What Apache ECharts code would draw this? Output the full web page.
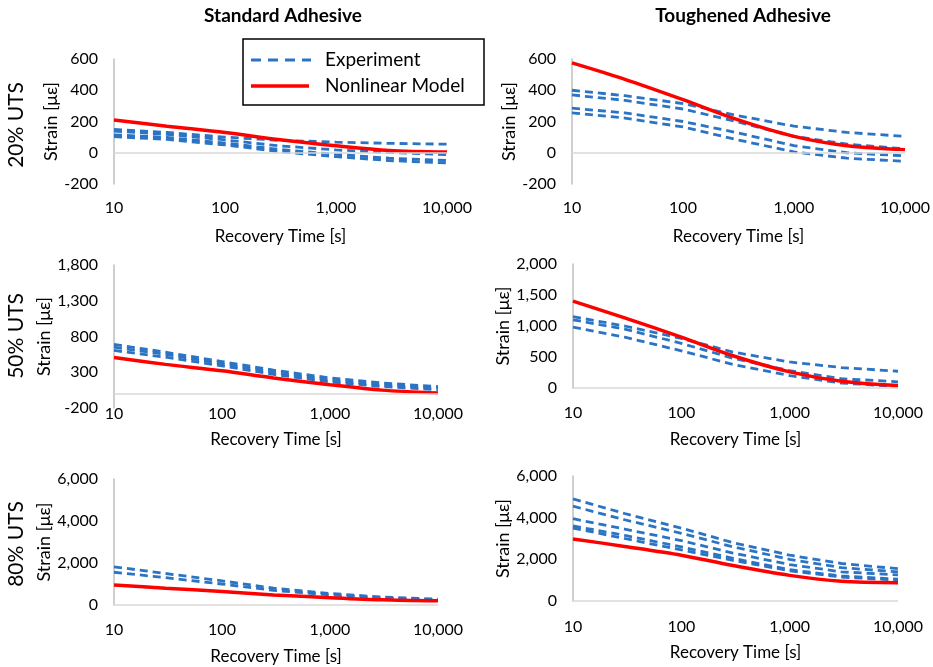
<!DOCTYPE html>
<html>
<head>
<meta charset="utf-8">
<script src="https://cdn.jsdelivr.net/npm/echarts@6/dist/echarts.min.js"></script>
<style>
html,body{margin:0;padding:0;background:#fff;}
#chart{width:933px;height:667px;}
</style>
</head>
<body>
<div id="chart"></div>
<script>
// Recovery times [s]
const timeS = [10, 30, 100, 300, 1000, 3000, 10000];

// Standard adhesive, 20% UTS
const std20Exp1 = [150, 130, 100, 80, 68, 60, 55];
const std20Exp2 = [138, 118, 82, 45, 18, 2, -12];
const std20Exp3 = [115, 98, 62, 22, -10, -35, -50];
const std20Exp4 = [103, 85, 50, 8, -25, -50, -65];
const std20Model = [210, 170, 130, 85, 45, 15, 5];

// Toughened adhesive, 20% UTS
const tgh20Exp1 = [400, 365, 315, 240, 170, 130, 105];
const tgh20Exp2 = [370, 335, 280, 200, 105, 55, 25];
const tgh20Exp3 = [285, 255, 200, 130, 45, 0, -20];
const tgh20Exp4 = [255, 222, 165, 85, 5, -35, -55];
const tgh20Model = [575, 470, 340, 215, 105, 45, 20];

// Standard adhesive, 50% UTS
const std50Exp1 = [690, 580, 450, 330, 220, 150, 100];
const std50Exp2 = [650, 550, 420, 300, 190, 120, 80];
const std50Exp3 = [605, 510, 390, 270, 165, 100, 55];
const std50Model = [505, 410, 320, 220, 125, 50, 10];

// Toughened adhesive, 50% UTS
const tgh50Exp1 = [1150, 1000, 800, 580, 420, 330, 270];
const tgh50Exp2 = [1100, 950, 720, 480, 280, 150, 100];
const tgh50Exp3 = [980, 820, 600, 380, 200, 80, 25];
const tgh50Model = [1400, 1130, 820, 520, 260, 110, 40];

// Standard adhesive, 80% UTS
const std80Exp1 = [1820, 1500, 1150, 800, 550, 380, 280];
const std80Exp2 = [1560, 1300, 1000, 700, 480, 330, 230];
const std80Model = [950, 800, 640, 480, 350, 250, 200];

// Toughened adhesive, 80% UTS
const tgh80Exp1 = [4900, 4200, 3500, 2800, 2200, 1800, 1550];
const tgh80Exp2 = [4550, 3900, 3250, 2600, 2000, 1600, 1400];
const tgh80Exp3 = [3950, 3450, 2900, 2300, 1750, 1400, 1250];
const tgh80Exp4 = [3600, 3150, 2600, 2050, 1500, 1200, 1050];
const tgh80Exp5 = [3500, 3000, 2450, 1950, 1450, 1150, 1000];
const tgh80Model = [2980, 2620, 2200, 1700, 1230, 950, 880];

// Axis ranges
const yMins = [-200, -200, -200, 0, 0, 0];
const yMaxs = [600, 600, 1800, 2000, 6000, 6000];
const yIntervals = [200, 200, 500, 500, 2000, 2000];

const columnTitles = ['Standard Adhesive', 'Toughened Adhesive'];
const rowTitles = ['20% UTS', '50% UTS', '80% UTS'];
const legendNames = ['Experiment', 'Nonlinear Model'];

const panels = [
  {exp: [std20Exp1, std20Exp2, std20Exp3, std20Exp4], model: std20Model},
  {exp: [tgh20Exp1, tgh20Exp2, tgh20Exp3, tgh20Exp4], model: tgh20Model},
  {exp: [std50Exp1, std50Exp2, std50Exp3], model: std50Model},
  {exp: [tgh50Exp1, tgh50Exp2, tgh50Exp3], model: tgh50Model},
  {exp: [std80Exp1, std80Exp2], model: std80Model},
  {exp: [tgh80Exp1, tgh80Exp2, tgh80Exp3, tgh80Exp4, tgh80Exp5], model: tgh80Model}
];

const FONT = 'Lato';
const BLUE = '#2b74c4';
const RED = '#ff0000';

const gridPos = [
  {left: 114, top: 59, width: 333, height: 125},
  {left: 572, top: 59, width: 333, height: 125},
  {left: 114, top: 265, width: 324, height: 143},
  {left: 573, top: 264, width: 325, height: 124},
  {left: 114, top: 479, width: 324, height: 126},
  {left: 573, top: 476, width: 325, height: 125}
];
const xLabelMargin = [16, 16, -2, 17, 17, 18];
const xNameGap = [44, 44, 23, 43, 43, 43];
const yNameGap = [45, 48, 45, 48, 45, 48];

const fmt = v => Number(v).toLocaleString('en-US');

const grid = gridPos.map(g => Object.assign({containLabel: false}, g));
const xAxis = gridPos.map((g, i) => ({
  gridIndex: i,
  type: 'log',
  logBase: 10,
  min: 10,
  max: 10000,
  axisLine: {show: false},
  axisTick: {show: false},
  splitLine: {show: false},
  axisLabel: {color: '#000', fontFamily: FONT, fontSize: 16, margin: xLabelMargin[i], formatter: fmt},
  name: 'Recovery Time [s]',
  nameLocation: 'middle',
  nameGap: xNameGap[i],
  nameTextStyle: {color: '#000', fontFamily: FONT, fontSize: 17}
}));
const yAxis = gridPos.map((g, i) => ({
  gridIndex: i,
  type: 'value',
  min: yMins[i],
  max: yMaxs[i],
  interval: yIntervals[i],
  axisLine: {show: true, lineStyle: {color: '#bfbfbf', width: 1.5}},
  axisTick: {show: false},
  splitLine: {show: false},
  axisLabel: {color: '#000', fontFamily: FONT, fontSize: 16, margin: 16, formatter: fmt},
  name: 'Strain [με]',
  nameLocation: 'middle',
  nameGap: yNameGap[i],
  nameTextStyle: {color: '#000', fontFamily: FONT, fontSize: 18}
}));

const series = [];
panels.forEach((p, i) => {
  p.exp.forEach((arr, k) => {
    const s = {
      name: legendNames[0],
      type: 'line',
      xAxisIndex: i,
      yAxisIndex: i,
      symbol: 'none',
      silent: true,
      lineStyle: {color: BLUE, width: 2.8, type: [8, 5]},
      itemStyle: {color: BLUE},
      data: timeS.map((t, j) => [t, arr[j]]),
      z: 3
    };
    if (k === 0) {
      s.markLine = {
        silent: true, symbol: 'none', label: {show: false},
        lineStyle: {color: '#d9d9d9', width: 1.5, type: 'solid'},
        data: [{yAxis: 0}]
      };
    }
    series.push(s);
  });
  series.push({
    name: legendNames[1],
    type: 'line',
    xAxisIndex: i,
    yAxisIndex: i,
    symbol: 'none',
    smooth: 0.3,
    silent: true,
    lineStyle: {color: RED, width: 3.5},
    itemStyle: {color: RED},
    data: timeS.map((t, j) => [t, p.model[j]]),
    z: 4
  });
});

const graphic = [];
graphic.push({type: 'text', x: 283, y: 16, style: {text: columnTitles[0], font: 'bold 19px ' + FONT, fill: '#000', align: 'center', verticalAlign: 'middle'}});
graphic.push({type: 'text', x: 743, y: 16, style: {text: columnTitles[1], font: 'bold 19px ' + FONT, fill: '#000', align: 'center', verticalAlign: 'middle'}});
const rowCenters = [125, 336, 544];
rowTitles.forEach((t, i) => {
  graphic.push({
    type: 'text', x: 16, y: rowCenters[i], rotation: Math.PI / 2,
    style: {text: t, font: '21px ' + FONT, fill: '#000', align: 'center', verticalAlign: 'middle'}
  });
});
// legend box
graphic.push({type: 'rect', shape: {x: 243, y: 39, width: 241, height: 66}, style: {fill: '#fff', stroke: '#000', lineWidth: 1.5}, z: 10});
graphic.push({type: 'line', shape: {x1: 251, y1: 60, x2: 311, y2: 60}, style: {stroke: BLUE, lineWidth: 3, lineDash: [10, 7]}, z: 11});
graphic.push({type: 'line', shape: {x1: 251, y1: 86, x2: 309, y2: 86}, style: {stroke: RED, lineWidth: 3.5}, z: 11});
graphic.push({type: 'text', x: 325, y: 60, style: {text: legendNames[0], font: '19px ' + FONT, fill: '#000', verticalAlign: 'middle'}, z: 11});
graphic.push({type: 'text', x: 325, y: 86, style: {text: legendNames[1], font: '19px ' + FONT, fill: '#000', verticalAlign: 'middle'}, z: 11});

const chart = echarts.init(document.getElementById('chart'), null, {renderer: 'canvas'});
chart.setOption({
  backgroundColor: '#fff',
  animation: false,
  grid, xAxis, yAxis, series, graphic
});
</script>
</body>
</html>
